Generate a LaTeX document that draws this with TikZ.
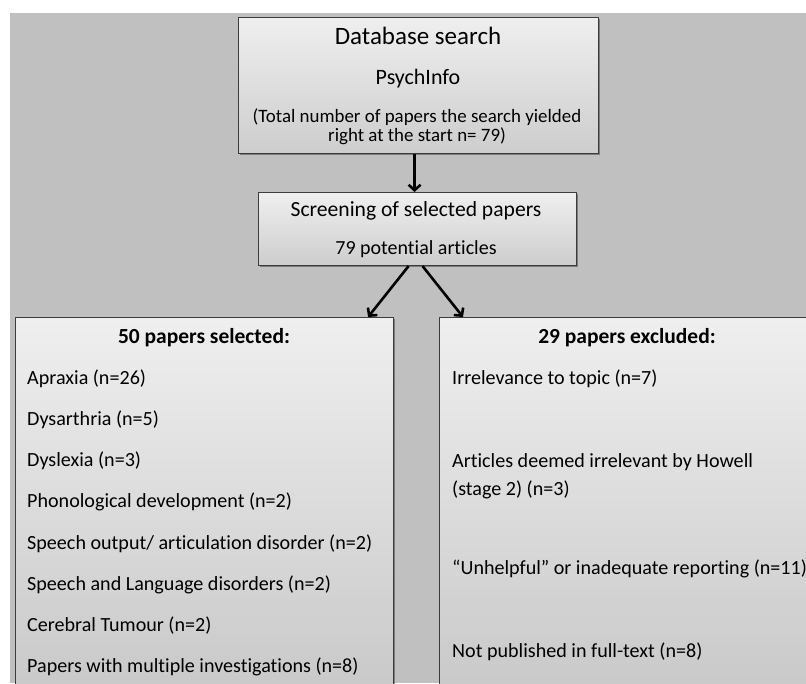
\documentclass[tikz,border=0pt]{standalone}
\usepackage{fontspec}
\setmainfont[Ligatures={TeX,CommonOff}]{Carlito}
\usetikzlibrary{arrows.meta,shadows}
\definecolor{bg}{HTML}{C0C0C0}
\definecolor{boxline}{HTML}{3C3C3C}
\definecolor{boxtop}{HTML}{EFEFEF}
\definecolor{boxbot}{HTML}{CDCDCD}
\definecolor{bigbot}{HTML}{C4C4C4}
\begin{document}
\begin{tikzpicture}[x=1pt,y=-1pt,
  box/.style={draw=boxline, line width=1.1pt, top color=boxtop, bottom color=boxbot,
    inner sep=0pt, anchor=north west,
    drop shadow={shadow xshift=1.2pt, shadow yshift=-1.2pt, opacity=0.35, fill=black}},
  lbl/.style={anchor=base, inner sep=0pt, text=black},
  litem/.style={anchor=base west, inner sep=0pt, text=black, font=\fontsize{20.1}{24}\selectfont},
  head/.style={anchor=base, inner sep=0pt, text=black, font=\fontsize{21.5}{25}\selectfont\bfseries},
  arr/.style={line width=2.6pt, -{Straight Barb[length=5.5pt,width=12pt]}}]
\useasboundingbox (0,0) rectangle (806,683);
\clip (0,0) rectangle (806,683);
\fill[white] (0,0) rectangle (806,683);
\fill[bg] (10,13) rectangle (806,683);

% boxes
\node[box, minimum width=360pt, minimum height=136pt] (db) at (238,17) {};
\node[box, minimum width=318pt, minimum height=73pt] (scr) at (258,192) {};
\node[box, bottom color=bigbot, minimum width=378pt, minimum height=420pt] (sel) at (15,317) {};
\node[box, bottom color=bigbot, minimum width=376pt, minimum height=420pt] (exc) at (439,317) {};

% top box text
\node[lbl, font=\fontsize{25}{29}\selectfont] (t1) at (418,44) {Database search};
\node[lbl, font=\fontsize{22}{26}\selectfont] (t2) at (418,84) {PsychInfo};
\node[lbl, font=\fontsize{18.9}{22}\selectfont] (t3) at (417,122) {(Total number of papers the search yielded};
\node[lbl, font=\fontsize{18.9}{22}\selectfont] (t4) at (417,141) {right at the start n= 79)};

% screening text
\node[lbl, font=\fontsize{21.6}{25}\selectfont] (s1) at (416,216) {Screening of selected papers};
\node[lbl, font=\fontsize{20}{24}\selectfont] (s2) at (416,254) {79 potential articles};

% selected
\node[head] (h1) at (204,343) {50 papers selected:};
\node[litem] (a1) at (27,384) {Apraxia (n=26)};
\node[litem] (a2) at (27,425) {Dysarthria (n=5)};
\node[litem] (a3) at (27,466) {Dyslexia (n=3)};
\node[litem] (a4) at (27,507) {Phonological development (n=2)};
\node[litem] (a5) at (27,549) {Speech output/ articulation disorder (n=2)};
\node[litem] (a6) at (27,590) {Speech and Language disorders (n=2)};
\node[litem] (a7) at (27,631) {Cerebral Tumour (n=2)};
\node[litem] (a8) at (27,672) {Papers with multiple investigations (n=8)};

% excluded
\node[head] (h2) at (627,343) {29 papers excluded:};
\node[litem] (b1) at (452,384) {Irrelevance to topic (n=7)};
\node[litem] (b2) at (452,467) {Articles deemed irrelevant by Howell};
\node[litem] (b3) at (452,495) {(stage 2) (n=3)};
\node[litem] (b4) at (452,574) {“Unhelpful” or inadequate reporting (n=11)};
\node[litem] (b5) at (452,657) {Not published in full-text (n=8)};

% arrows
\draw[arr] ([xshift=-4pt]db.south) -- ([xshift=-3pt]scr.north);
\draw[arr] ([xshift=-9pt]scr.south) -- ([xshift=-26pt]sel.north east);
\draw[arr] ([xshift=5pt]scr.south) -- ([xshift=24pt]exc.north west);
\end{tikzpicture}
\end{document}
